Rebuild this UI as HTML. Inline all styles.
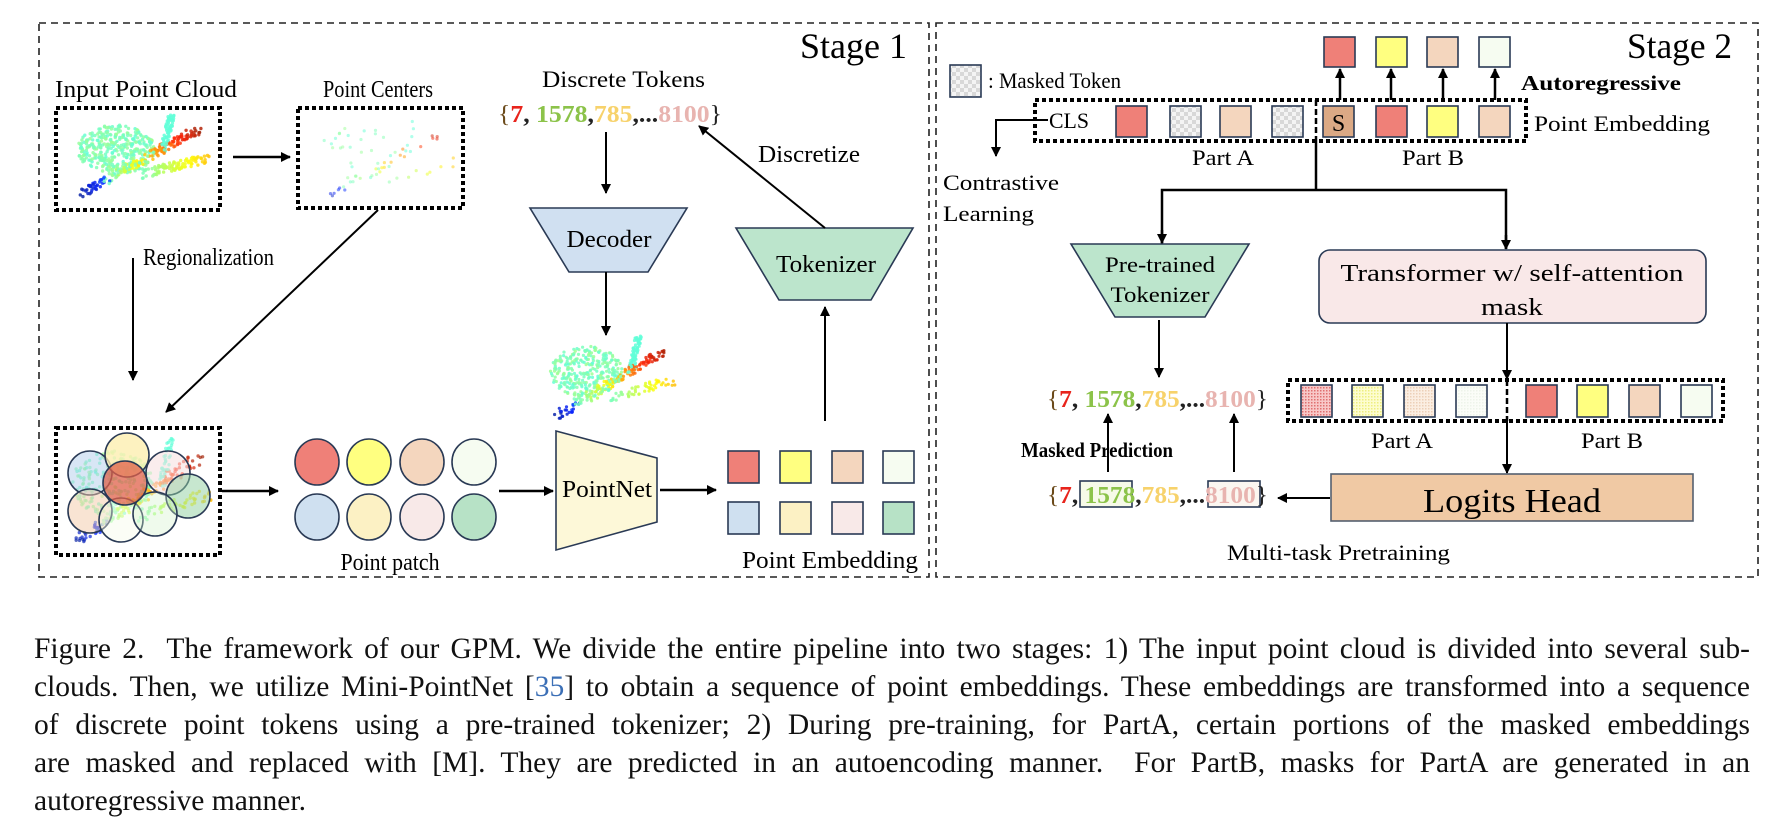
<!DOCTYPE html>
<html><head><meta charset="utf-8">
<style>
html,body{margin:0;padding:0;background:#fff;}
body{width:1770px;height:806px;position:relative;overflow:hidden;font-family:"Liberation Serif",serif;}
svg{position:absolute;left:0;top:0;}
.cap{position:absolute;left:34px;width:1716px;font-size:29.5px;line-height:38px;color:#111;font-family:"Liberation Serif",serif;}
.cap div{text-align:justify;text-align-last:justify;white-space:nowrap;height:38px;}
.cap div.l{text-align-last:left;}
</style></head><body>
<svg width="1770" height="806" viewBox="0 0 1770 806" xmlns="http://www.w3.org/2000/svg" font-family="Liberation Serif, serif">
<defs>
<marker id="ah" markerWidth="10" markerHeight="10" refX="9" refY="5" orient="auto" markerUnits="userSpaceOnUse">
<path d="M0,0 L10,5 L0,10 Z" fill="#000"/></marker>
<pattern id="chk" width="8" height="8" patternUnits="userSpaceOnUse">
<rect width="8" height="8" fill="#f4f4f4"/><rect width="4" height="4" fill="#d8d8d8"/><rect x="4" y="4" width="4" height="4" fill="#d8d8d8"/></pattern>
<pattern id="dr" width="3" height="3" patternUnits="userSpaceOnUse"><rect width="3" height="3" fill="#f8c8c8"/><rect width="1.5" height="1.5" fill="#e07070"/></pattern>
<pattern id="dy" width="3" height="3" patternUnits="userSpaceOnUse"><rect width="3" height="3" fill="#fdfdd0"/><rect width="1.5" height="1.5" fill="#eeee80"/></pattern>
<pattern id="dp" width="3" height="3" patternUnits="userSpaceOnUse"><rect width="3" height="3" fill="#fbeee2"/><rect width="1.5" height="1.5" fill="#ecd0b8"/></pattern>
<pattern id="dw" width="3" height="3" patternUnits="userSpaceOnUse"><rect width="3" height="3" fill="#fbfdf8"/><rect width="1.5" height="1.5" fill="#eef4ea"/></pattern>
</defs>

<rect x="39" y="23" width="890" height="554" fill="none" stroke="#222" stroke-width="1.6" stroke-dasharray="7 5"/>
<rect x="936" y="23" width="822" height="554" fill="none" stroke="#222" stroke-width="1.6" stroke-dasharray="7 5"/>
<text x="800" y="58" font-size="36" textLength="107" lengthAdjust="spacingAndGlyphs">Stage 1</text>
<text x="1627" y="58" font-size="36" textLength="105" lengthAdjust="spacingAndGlyphs">Stage 2</text>

<text x="55" y="97" font-size="24" textLength="182" lengthAdjust="spacingAndGlyphs">Input Point Cloud</text>
<text x="323" y="97" font-size="24" textLength="110" lengthAdjust="spacingAndGlyphs">Point Centers</text>
<rect x="56" y="108" width="164" height="102" fill="none" stroke="#000" stroke-width="4" stroke-dasharray="4 3"/>
<rect x="298" y="108" width="165" height="100" fill="none" stroke="#000" stroke-width="4" stroke-dasharray="4 3"/>
<g id="c1"></g><g id="c2"></g>
<line x1="233" y1="157" x2="290" y2="157" stroke="#000" stroke-width="2.5" marker-end="url(#ah)"/>
<text x="143" y="265" font-size="24" textLength="131" lengthAdjust="spacingAndGlyphs">Regionalization</text>
<line x1="133" y1="258" x2="133" y2="380" stroke="#000" stroke-width="2" marker-end="url(#ah)"/>
<line x1="378" y1="210" x2="166" y2="412" stroke="#000" stroke-width="2" marker-end="url(#ah)"/>
<rect x="56" y="428" width="164" height="127" fill="none" stroke="#000" stroke-width="4" stroke-dasharray="4 3"/>
<g id="c3"></g>
<g stroke="#2a3a55" stroke-width="1.6">
<circle cx="90" cy="473" r="22" fill="#a8c8e8" fill-opacity="0.45"/>
<circle cx="127" cy="455" r="22" fill="#fcefb0" fill-opacity="0.8"/>
<circle cx="168" cy="473" r="22" fill="#f5dede" fill-opacity="0.55"/>
<circle cx="188" cy="496" r="22" fill="#90d0a0" fill-opacity="0.5"/>
<circle cx="90" cy="511" r="22" fill="#f4caa8" fill-opacity="0.5"/>
<circle cx="121" cy="520" r="22" fill="#f4fbe8" fill-opacity="0.4"/>
<circle cx="155" cy="514" r="22" fill="#d0f0c8" fill-opacity="0.35"/>
<circle cx="125" cy="483" r="22" fill="#e0604a" fill-opacity="0.75"/>
</g>
<line x1="222" y1="491" x2="278" y2="491" stroke="#000" stroke-width="2.5" marker-end="url(#ah)"/>
<g stroke="#2a3a55" stroke-width="1.6">
<ellipse cx="317" cy="462" rx="22" ry="23" fill="#ef8078"/>
<ellipse cx="369" cy="462" rx="22" ry="23" fill="#ffff80"/>
<ellipse cx="422" cy="462" rx="22" ry="23" fill="#f4d6be"/>
<ellipse cx="474" cy="462" rx="22" ry="23" fill="#f6fcf1"/>
<ellipse cx="317" cy="517" rx="22" ry="23" fill="#cfe0f0"/>
<ellipse cx="369" cy="517" rx="22" ry="23" fill="#fcf1c4"/>
<ellipse cx="422" cy="517" rx="22" ry="23" fill="#f8e9e8"/>
<ellipse cx="474" cy="517" rx="22" ry="23" fill="#b7e2c6"/>
</g>
<text x="390" y="570" font-size="24" text-anchor="middle" textLength="99" lengthAdjust="spacingAndGlyphs">Point patch</text>
<line x1="499" y1="491" x2="553" y2="491" stroke="#000" stroke-width="2.5" marker-end="url(#ah)"/>
<polygon points="556,431 657,458 657,522 556,550" fill="#fdf8d8" stroke="#2a3a55" stroke-width="1.6"/>
<text x="607" y="497" font-size="24" text-anchor="middle" textLength="90" lengthAdjust="spacingAndGlyphs">PointNet</text>
<line x1="660" y1="490" x2="716" y2="490" stroke="#000" stroke-width="2.5" marker-end="url(#ah)"/>
<g stroke="#2a3a55" stroke-width="1.6">
<rect x="728" y="451" width="31" height="32" fill="#ef8078"/>
<rect x="780" y="451" width="31" height="32" fill="#ffff80"/>
<rect x="832" y="451" width="31" height="32" fill="#f4d6be"/>
<rect x="883" y="451" width="31" height="32" fill="#f6fcf1"/>
<rect x="728" y="502" width="31" height="32" fill="#cfe0f0"/>
<rect x="780" y="502" width="31" height="32" fill="#fcf1c4"/>
<rect x="832" y="502" width="31" height="32" fill="#f8e9e8"/>
<rect x="883" y="502" width="31" height="32" fill="#b7e2c6"/>
</g>
<text x="742" y="568" font-size="24" textLength="176" lengthAdjust="spacingAndGlyphs">Point Embedding</text>

<text x="542" y="87" font-size="23" textLength="163" lengthAdjust="spacingAndGlyphs">Discrete Tokens</text>
<text x="498" y="122" font-size="24" font-weight="bold" textLength="224" lengthAdjust="spacingAndGlyphs"><tspan fill="#6b4a1a" font-weight="normal">{</tspan><tspan fill="#e8241c">7</tspan><tspan fill="#222">, </tspan><tspan fill="#8cc34a">1578</tspan><tspan fill="#222">,</tspan><tspan fill="#f7d26b">785</tspan><tspan fill="#222">,...</tspan><tspan fill="#e8b4b0">8100</tspan><tspan fill="#222" font-weight="normal">}</tspan></text>
<line x1="606" y1="132" x2="606" y2="193" stroke="#000" stroke-width="2" marker-end="url(#ah)"/>
<polygon points="530,208 687,208 648,272 569,272" fill="#d0e0f1" stroke="#2a3a55" stroke-width="1.6"/>
<text x="609" y="247" font-size="24" text-anchor="middle" textLength="85" lengthAdjust="spacingAndGlyphs">Decoder</text>
<line x1="606" y1="272" x2="606" y2="335" stroke="#000" stroke-width="2" marker-end="url(#ah)"/>
<g id="c4"></g>
<polygon points="736,228 913,228 871,300 779,300" fill="#bce5cc" stroke="#2a3a55" stroke-width="1.6"/>
<text x="826" y="272" font-size="24" text-anchor="middle" textLength="100" lengthAdjust="spacingAndGlyphs">Tokenizer</text>
<line x1="825" y1="228" x2="699" y2="126" stroke="#000" stroke-width="2" marker-end="url(#ah)"/>
<text x="758" y="162" font-size="24" textLength="102" lengthAdjust="spacingAndGlyphs">Discretize</text>
<line x1="825" y1="421" x2="825" y2="307" stroke="#000" stroke-width="2" marker-end="url(#ah)"/>

<rect x="950" y="65" width="31" height="32" fill="url(#chk)" stroke="#2a3a55" stroke-width="1.6"/>
<text x="988" y="88" font-size="22" textLength="133" lengthAdjust="spacingAndGlyphs">: Masked Token</text>
<g stroke="#2a3a55" stroke-width="1.6">
<rect x="1324" y="37" width="31" height="30" fill="#ef8078"/>
<rect x="1376" y="37" width="31" height="30" fill="#ffff80"/>
<rect x="1427" y="37" width="31" height="30" fill="#f4d6be"/>
<rect x="1479" y="37" width="31" height="30" fill="#f6fcf1"/>
</g>
<g stroke="#000" stroke-width="2.5">
<line x1="1340" y1="100" x2="1340" y2="69" marker-end="url(#ah)"/>
<line x1="1391" y1="100" x2="1391" y2="69" marker-end="url(#ah)"/>
<line x1="1443" y1="100" x2="1443" y2="69" marker-end="url(#ah)"/>
<line x1="1495" y1="100" x2="1495" y2="69" marker-end="url(#ah)"/>
</g>
<text x="1521" y="90" font-size="21" font-weight="bold" textLength="160" lengthAdjust="spacingAndGlyphs">Autoregressive</text>
<rect x="1035" y="100" width="491" height="41" fill="none" stroke="#000" stroke-width="4" stroke-dasharray="4 3"/>
<line x1="1316" y1="100" x2="1316" y2="141" stroke="#000" stroke-width="2.5" stroke-dasharray="6 3"/>
<text x="1534" y="131" font-size="22" textLength="176" lengthAdjust="spacingAndGlyphs">Point Embedding</text>
<text x="1049" y="128" font-size="22" textLength="40" lengthAdjust="spacingAndGlyphs">CLS</text>
<polyline points="1048,120 996,120 996,156" fill="none" stroke="#000" stroke-width="2" marker-end="url(#ah)"/>
<g stroke="#2a3a55" stroke-width="1.6">
<rect x="1116" y="106" width="31" height="31" fill="#ef8078"/>
<rect x="1170" y="106" width="31" height="31" fill="url(#chk)"/>
<rect x="1220" y="106" width="31" height="31" fill="#f4d6be"/>
<rect x="1272" y="106" width="31" height="31" fill="url(#chk)"/>
<rect x="1323" y="106" width="31" height="31" fill="#dba985"/>
<rect x="1376" y="106" width="31" height="31" fill="#ef8078"/>
<rect x="1427" y="106" width="31" height="31" fill="#ffff80"/>
<rect x="1479" y="106" width="31" height="31" fill="#f4d6be"/>
</g>
<text x="1338.5" y="131" font-size="24" text-anchor="middle">S</text>
<text x="1223" y="165" font-size="22" text-anchor="middle" textLength="62" lengthAdjust="spacingAndGlyphs">Part A</text>
<text x="1433" y="165" font-size="22" text-anchor="middle" textLength="62" lengthAdjust="spacingAndGlyphs">Part B</text>
<text x="943" y="190" font-size="22" textLength="116" lengthAdjust="spacingAndGlyphs">Contrastive</text>
<text x="943" y="221" font-size="22" textLength="91" lengthAdjust="spacingAndGlyphs">Learning</text>
<line x1="1316" y1="141" x2="1316" y2="190" stroke="#000" stroke-width="2.5"/>
<polyline points="1162,244 1162,190 1506,190 1506,249" fill="none" stroke="#000" stroke-width="2.5"/>
<line x1="1162" y1="230" x2="1162" y2="243" stroke="#000" stroke-width="2.5" marker-end="url(#ah)"/>
<line x1="1506" y1="235" x2="1506" y2="249" stroke="#000" stroke-width="2.5" marker-end="url(#ah)"/>
<polygon points="1071,244 1249,244 1205,317 1115,317" fill="#bce5cc" stroke="#2a3a55" stroke-width="1.6"/>
<text x="1160" y="272" font-size="22" text-anchor="middle" textLength="110" lengthAdjust="spacingAndGlyphs">Pre-trained</text>
<text x="1160" y="302" font-size="22" text-anchor="middle" textLength="99" lengthAdjust="spacingAndGlyphs">Tokenizer</text>
<rect x="1319" y="250" width="387" height="73" rx="11" fill="#f9e8e8" stroke="#2a3a55" stroke-width="1.6"/>
<text x="1512" y="281" font-size="24" text-anchor="middle" textLength="343" lengthAdjust="spacingAndGlyphs">Transformer w/ self-attention</text>
<text x="1512" y="315" font-size="24" text-anchor="middle" textLength="62" lengthAdjust="spacingAndGlyphs">mask</text>
<line x1="1159" y1="320" x2="1159" y2="377" stroke="#000" stroke-width="2" marker-end="url(#ah)"/>
<text x="1047" y="407" font-size="24" font-weight="bold" textLength="221" lengthAdjust="spacingAndGlyphs"><tspan fill="#6b4a1a" font-weight="normal">{</tspan><tspan fill="#e8241c">7</tspan><tspan fill="#222">, </tspan><tspan fill="#8cc34a">1578</tspan><tspan fill="#222">,</tspan><tspan fill="#f7d26b">785</tspan><tspan fill="#222">,...</tspan><tspan fill="#e8b4b0">8100</tspan><tspan fill="#222" font-weight="normal">}</tspan></text>
<rect x="1288" y="380" width="435" height="41" fill="none" stroke="#000" stroke-width="4" stroke-dasharray="4 3"/>
<g stroke="#2a3a55" stroke-width="1.6">
<rect x="1301" y="385" width="31" height="32" fill="url(#dr)"/>
<rect x="1352" y="385" width="31" height="32" fill="url(#dy)"/>
<rect x="1404" y="385" width="31" height="32" fill="url(#dp)"/>
<rect x="1456" y="385" width="31" height="32" fill="url(#dw)"/>
<rect x="1526" y="385" width="31" height="32" fill="#ef8078"/>
<rect x="1577" y="385" width="31" height="32" fill="#ffff80"/>
<rect x="1629" y="385" width="31" height="32" fill="#f4d6be"/>
<rect x="1681" y="385" width="31" height="32" fill="#f6fcf1"/>
</g>
<line x1="1507" y1="380" x2="1507" y2="421" stroke="#000" stroke-width="2.5" stroke-dasharray="6 3"/>
<line x1="1507" y1="323" x2="1507" y2="379" stroke="#000" stroke-width="2" marker-end="url(#ah)"/>
<line x1="1507" y1="421" x2="1507" y2="473" stroke="#000" stroke-width="2" marker-end="url(#ah)"/>
<text x="1402" y="448" font-size="22" text-anchor="middle" textLength="62" lengthAdjust="spacingAndGlyphs">Part A</text>
<text x="1612" y="448" font-size="22" text-anchor="middle" textLength="62" lengthAdjust="spacingAndGlyphs">Part B</text>
<text x="1021" y="457" font-size="21" font-weight="bold" textLength="152" lengthAdjust="spacingAndGlyphs">Masked Prediction</text>
<line x1="1108" y1="472" x2="1108" y2="414" stroke="#000" stroke-width="2" marker-end="url(#ah)"/>
<line x1="1234" y1="472" x2="1234" y2="414" stroke="#000" stroke-width="2" marker-end="url(#ah)"/>
<rect x="1080" y="481" width="52" height="26" fill="#f6fae8" stroke="#2a3a55" stroke-width="1.6"/>
<rect x="1208" y="481" width="52" height="26" fill="#fbf6f0" stroke="#2a3a55" stroke-width="1.6"/>
<text x="1047" y="503" font-size="24" font-weight="bold" textLength="221" lengthAdjust="spacingAndGlyphs"><tspan fill="#6b4a1a" font-weight="normal">{</tspan><tspan fill="#e8241c">7</tspan><tspan fill="#222">, </tspan><tspan fill="#8cc34a">1578</tspan><tspan fill="#222">,</tspan><tspan fill="#f7d26b">785</tspan><tspan fill="#222">,...</tspan><tspan fill="#e8b4b0">8100</tspan><tspan fill="#222" font-weight="normal">}</tspan></text>
<rect x="1331" y="474" width="362" height="47" fill="#f0c9a4" stroke="#556070" stroke-width="1.6"/>
<text x="1512" y="512" font-size="34" text-anchor="middle" textLength="178" lengthAdjust="spacingAndGlyphs">Logits Head</text>
<line x1="1330" y1="498" x2="1278" y2="498" stroke="#000" stroke-width="2" marker-end="url(#ah)"/>
<text x="1227" y="560" font-size="22" textLength="223" lengthAdjust="spacingAndGlyphs">Multi-task Pretraining</text>
</svg>

<div class="cap" style="top:630px">
<div>Figure 2.&nbsp; The framework of our GPM. We divide the entire pipeline into two stages: 1) The input point cloud is divided into several sub-</div>
<div>clouds. Then, we utilize Mini-PointNet [<span style="color:#3b6fb6">35</span>] to obtain a sequence of point embeddings. These embeddings are transformed into a sequence</div>
<div>of discrete point tokens using a pre-trained tokenizer; 2) During pre-training, for PartA, certain portions of the masked embeddings</div>
<div>are masked and replaced with [M]. They are predicted in an autoencoding manner.&nbsp; For PartB, masks for PartA are generated in an</div>
<div class="l">autoregressive manner.</div>
</div>

<script>
(function(){
var s=12345;function r(){s=(s*16807)%2147483647;return s/2147483647;}
function jet(t){t=Math.max(0,Math.min(1,t));
var R=Math.min(1,Math.max(0,1.5-Math.abs(4*t-3))),G=Math.min(1,Math.max(0,1.5-Math.abs(4*t-2))),B=Math.min(1,Math.max(0,1.5-Math.abs(4*t-1)));
R=R*0.75+0.25*(t>0.2?1:0.2);G=G*0.85+0.15;B=B*0.85+0.15*(t<0.5?1:0.3);
return "rgb("+Math.round(R*255)+","+Math.round(G*255)+","+Math.round(B*255)+")";}
function pts(n){var a=[];
for(var i=0;i<n;i++){var k=r(),x,y,t;
 if(k<0.5){var an=r()*6.283,rr=Math.sqrt(r());x=0.32+0.28*rr*Math.cos(an);y=0.42+0.3*rr*Math.sin(an);t=0.42+0.08*r();}
 else if(k<0.78){var u=r();x=0.08+0.85*u+(r()-0.5)*0.08;y=0.95-0.78*u+(r()-0.5)*0.1;t=u<0.2?0.02+u*0.8:0.3+u*0.7;}
 else if(k<0.9){var u=r();x=0.5+0.5*u;y=0.72-0.2*u+(r()-0.5)*0.12;t=0.45+0.25*u;}
 else{var u=r();x=0.66+0.06*u+(r()-0.5)*0.05;y=0.45-0.45*u;t=0.42;}
 a.push([x,y,t]);}
return a;}
function draw(id,x0,y0,w,h,n,rad,op){var g=document.getElementById(id),h2="",p=pts(n);
for(var i=0;i<p.length;i++){h2+='<circle cx="'+(x0+p[i][0]*w).toFixed(1)+'" cy="'+(y0+p[i][1]*h).toFixed(1)+'" r="'+rad+'" fill="'+jet(p[i][2])+'" fill-opacity="'+op+'"/>';}
g.innerHTML=h2;}
draw("c1",72,115,138,82,700,1.7,0.85);
draw("c2",308,116,150,88,70,1.6,0.5);
draw("c3",66,438,145,108,500,1.7,0.7);
draw("c4",545,336,130,85,600,1.6,0.85);
})();
</script>
</body></html>
